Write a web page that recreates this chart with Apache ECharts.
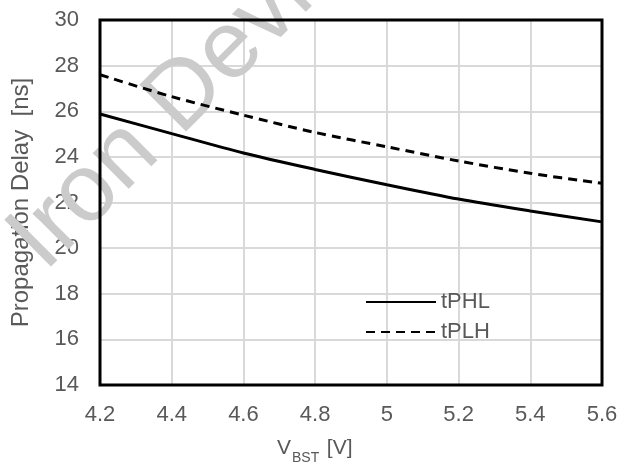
<!DOCTYPE html>
<html>
<head>
<meta charset="utf-8">
<script src="https://cdn.jsdelivr.net/npm/echarts@6/dist/echarts.min.js"></script>
<style>html,body{margin:0;padding:0;background:#fff}#c{width:622px;height:467px}</style>
</head>
<body>
<div id="c"></div>
<script>
var xValues = [4.2, 4.4, 4.6, 4.8, 5.0, 5.2, 5.4, 5.6];
var tPHL = [25.88, 25.02, 24.17, 23.45, 22.78, 22.15, 21.63, 21.15];
var tPLH = [27.60, 26.64, 25.83, 25.07, 24.44, 23.82, 23.28, 22.84];
var seriesNames = ['tPHL', 'tPLH'];
var yTitle = 'Propagation Delay  [ns]';
var xTitleMain = 'V', xTitleSub = 'BST', xTitleUnit = ' [V]';
var watermark = 'Iron Devices';

var FONT = '"Liberation Sans", Arial, sans-serif';
var GRAY = '#595959';
function pairs(ys){ return xValues.map(function(x,i){ return [x, ys[i]]; }); }

var chart = echarts.init(document.getElementById('c'), null, {renderer:'canvas'});
chart.setOption({
  animation: false,
  backgroundColor: '#fff',
  grid: {left: 100, right: 20, top: 20, bottom: 82, show: true, borderColor: '#000', borderWidth: 3, backgroundColor: 'transparent', z: 3},
  xAxis: {
    type: 'value', min: 4.2, max: 5.6, interval: 0.2,
    axisLine: {show: false}, axisTick: {show: false},
    splitLine: {show: true, lineStyle: {color: '#d9d9d9', width: 2}},
    axisLabel: {color: GRAY, fontFamily: FONT, fontSize: 22, margin: 19,
      formatter: function(v){ return String(+v.toFixed(1)); }}
  },
  yAxis: {
    type: 'value', min: 14, max: 30, interval: 2,
    name: yTitle, nameLocation: 'middle', nameGap: 67,
    nameTextStyle: {color: GRAY, fontFamily: FONT, fontSize: 24},
    axisLine: {show: false}, axisTick: {show: false},
    splitLine: {show: true, lineStyle: {color: '#d9d9d9', width: 2}},
    axisLabel: {color: GRAY, fontFamily: FONT, fontSize: 22, margin: 21}
  },
  legend: {
    orient: 'vertical', left: 360, top: 286, itemWidth: 70, itemHeight: 16, itemGap: 8,
    itemStyle: {opacity: 0},
    textStyle: {color: GRAY, fontFamily: FONT, fontSize: 22},
    data: seriesNames
  },
  graphic: [
    {type: 'text', x: 60, y: 288, rotation: Math.PI/4, z: 1,
      style: {text: watermark, fill: '#cbcbcb', font: '96px ' + FONT, textVerticalAlign: 'bottom'}},
    {type: 'text', x: 277, y: 438, z: 10, style: {text: xTitleMain, fill: GRAY, font: '21px ' + FONT}},
    {type: 'text', x: 292, y: 451, z: 10, style: {text: xTitleSub, fill: GRAY, font: '14px ' + FONT}},
    {type: 'text', x: 321, y: 438, z: 10, style: {text: xTitleUnit, fill: GRAY, font: '21px ' + FONT}}
  ],
  series: [
    {name: seriesNames[0], type: 'line', data: pairs(tPHL), smooth: 0.3, symbol: 'none', z: 5,
      lineStyle: {color: '#000', width: 3, type: 'solid'}, itemStyle: {color: '#000'}},
    {name: seriesNames[1], type: 'line', data: pairs(tPLH), smooth: 0.3, symbol: 'none', z: 5,
      lineStyle: {color: '#000', width: 3, type: [9, 6]}, itemStyle: {color: '#000'}}
  ]
});
</script>
</body>
</html>
